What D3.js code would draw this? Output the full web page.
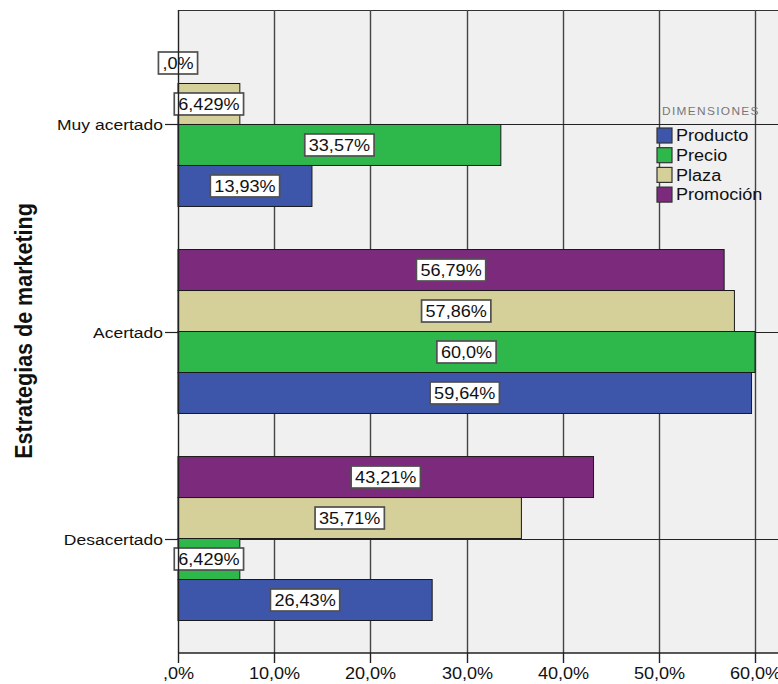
<!DOCTYPE html>
<html>
<head>
<meta charset="utf-8">
<script src="https://cdn.jsdelivr.net/npm/d3@7"></script>
<style>
  body { margin: 0; background: #fff; }
  text { font-family: "Liberation Sans", Arial, sans-serif; fill: #111; }
</style>
</head>
<body>
<div id="chart"></div>
<script>
// categories, top to bottom
var categories = ["Muy acertado", "Acertado", "Desacertado"];
// series, bottom to top inside each group
var seriesNames = ["Producto", "Precio", "Plaza", "Promoción"];
var seriesColors = ["#3d56aa", "#2eb84b", "#d5cf9a", "#7c2a7c"];

var producto = [13.93, 59.64, 26.43];
var precio = [33.57, 60.0, 6.429];
var plaza = [6.429, 57.86, 35.71];
var promocion = [0.0, 56.79, 43.21];

var productoLabels = ["13,93%", "59,64%", "26,43%"];
var precioLabels = ["33,57%", "60,0%", "6,429%"];
var plazaLabels = ["6,429%", "57,86%", "35,71%"];
var promocionLabels = [",0%", "56,79%", "43,21%"];

var xTicks = [0, 10, 20, 30, 40, 50, 60];
var xTickLabels = [",0%", "10,0%", "20,0%", "30,0%", "40,0%", "50,0%", "60,0%"];

var yTitle = "Estrategias de marketing";
var legendTitle = "DIMENSIONES";

var W = 778, H = 684;
var plot = { left: 178, top: 10, right: 778, bottom: 653 };
var SX = 1.13; // the original text is a bit wide

var allValues = [producto, precio, plaza, promocion];
var allLabels = [productoLabels, precioLabels, plazaLabels, promocionLabels];

var svg = d3.select("#chart").append("svg")
    .attr("width", W).attr("height", H);

function wideText(sel, tx, ty) {
    // wraps a text in a group stretched horizontally
    return sel.append("g")
        .attr("transform", "translate(" + tx + "," + ty + ") scale(" + SX + ",1)")
        .append("text");
}

var x = d3.scaleLinear().domain([0, 60]).range([plot.left, 755]);

var y = d3.scaleBand().domain(categories)
    .range([plot.top, plot.bottom])
    .paddingInner(0.208).paddingOuter(0.157);

// top of group = Promoción, bottom = Producto
var ySub = d3.scaleBand().domain(seriesNames.slice().reverse())
    .range([0, y.bandwidth()]);

// background
svg.append("rect")
    .attr("x", plot.left).attr("y", plot.top)
    .attr("width", plot.right - plot.left).attr("height", plot.bottom - plot.top)
    .attr("fill", "#f0f0f0");

// top border
svg.append("line")
    .attr("x1", plot.left).attr("x2", plot.right)
    .attr("y1", plot.top + 0.5).attr("y2", plot.top + 0.5)
    .attr("stroke", "#333").attr("stroke-width", 1);

// vertical grid
svg.append("g").selectAll("line").data(xTicks.slice(1)).enter().append("line")
    .attr("x1", function(d) { return Math.round(x(d)) + 0.5; })
    .attr("x2", function(d) { return Math.round(x(d)) + 0.5; })
    .attr("y1", plot.top).attr("y2", plot.bottom)
    .attr("stroke", "#444").attr("stroke-width", 1.4);

// horizontal lines at categories
svg.append("g").selectAll("line").data(categories).enter().append("line")
    .attr("x1", plot.left).attr("x2", plot.right)
    .attr("y1", function(d) { return Math.round(y(d) + y.bandwidth() / 2) + 0.5; })
    .attr("y2", function(d) { return Math.round(y(d) + y.bandwidth() / 2) + 0.5; })
    .attr("stroke", "#222").attr("stroke-width", 1.2);

// bars
var bars = [];
seriesNames.forEach(function(s, si) {
    categories.forEach(function(c, ci) {
        bars.push({ series: s, si: si, cat: c, value: allValues[si][ci], label: allLabels[si][ci] });
    });
});

svg.append("g").selectAll("rect").data(bars.filter(function(d) { return d.value > 0; }))
    .enter().append("rect")
    .attr("x", x(0))
    .attr("y", function(d) { return y(d.cat) + ySub(d.series); })
    .attr("width", function(d) { return x(d.value) - x(0); })
    .attr("height", ySub.bandwidth())
    .attr("fill", function(d) { return seriesColors[d.si]; })
    .attr("stroke", "#1a1a1a").attr("stroke-width", 1);

// value labels
var lab = svg.append("g").selectAll("g").data(bars).enter().append("g")
    .attr("transform", function(d) {
        var cx = (x(0) + x(d.value)) / 2;
        var cy = y(d.cat) + ySub(d.series) + ySub.bandwidth() / 2;
        return "translate(" + cx + "," + cy + ")";
    });
lab.each(function(d) {
    var g = d3.select(this);
    var box = g.append("rect");
    var t = wideText(g, 0, 0)
        .attr("text-anchor", "middle")
        .attr("dy", "0.36em")
        .style("font-size", "16px")
        .text(d.label);
    var w = t.node().getComputedTextLength() * SX;
    box.attr("x", -w / 2 - 4).attr("y", -11)
        .attr("width", w + 8).attr("height", 22)
        .attr("fill", "#fff").attr("stroke", "#505050").attr("stroke-width", 1.7);
});

// x axis
var xAxis = svg.append("g");
xAxis.append("line")
    .attr("x1", plot.left).attr("x2", plot.right)
    .attr("y1", plot.bottom).attr("y2", plot.bottom)
    .attr("stroke", "#222").attr("stroke-width", 1.4);
var xt = xAxis.selectAll("g").data(xTicks).enter().append("g")
    .attr("transform", function(d) { return "translate(" + (Math.round(x(d)) + 0.5) + ",0)"; });
xt.append("line")
    .attr("y1", plot.bottom).attr("y2", plot.bottom + 10)
    .attr("stroke", "#222").attr("stroke-width", 1.4);
xt.each(function(d, i) {
    wideText(d3.select(this), 0, plot.bottom + 26)
        .attr("text-anchor", "middle")
        .style("font-size", "16px")
        .text(xTickLabels[i]);
});

// y axis (drawn above labels)
var yAxis = svg.append("g");
yAxis.append("line")
    .attr("x1", plot.left + 0.5).attr("x2", plot.left + 0.5)
    .attr("y1", plot.top).attr("y2", plot.bottom)
    .attr("stroke", "#222").attr("stroke-width", 1.4);
var yt = yAxis.selectAll("g").data(categories).enter().append("g")
    .attr("transform", function(d) { return "translate(0," + (Math.round(y(d) + y.bandwidth() / 2) + 0.5) + ")"; });
yt.append("line")
    .attr("x1", plot.left - 13).attr("x2", plot.left)
    .attr("stroke", "#222").attr("stroke-width", 1.2);
yt.each(function(d) {
    wideText(d3.select(this), plot.left - 15, 0)
        .attr("dy", "0.36em")
        .attr("text-anchor", "end")
        .style("font-size", "15.5px")
        .text(d);
});

// y title
svg.append("text")
    .attr("transform", "translate(32,331) scale(1.15,1) rotate(-90)")
    .attr("text-anchor", "middle")
    .style("font-weight", "bold")
    .style("font-size", "21.5px")
    .text(yTitle);

// legend
var legend = svg.append("g");
wideText(legend, 662, 115)
    .style("font-size", "10.5px")
    .style("letter-spacing", "1.2px")
    .style("fill", "#777")
    .text(legendTitle);
var li = legend.selectAll("g.item").data(seriesNames).enter().append("g")
    .attr("class", "item")
    .attr("transform", function(d, i) { return "translate(657," + (128 + i * 19.7) + ")"; });
li.append("rect")
    .attr("width", 15).attr("height", 15)
    .attr("fill", function(d, i) { return seriesColors[i]; })
    .attr("stroke", "#333").attr("stroke-width", 1.2);
li.each(function(d) {
    wideText(d3.select(this), 19, 7.5)
        .attr("dy", "0.36em")
        .style("font-size", "16px")
        .text(d);
});
</script>
</body>
</html>
